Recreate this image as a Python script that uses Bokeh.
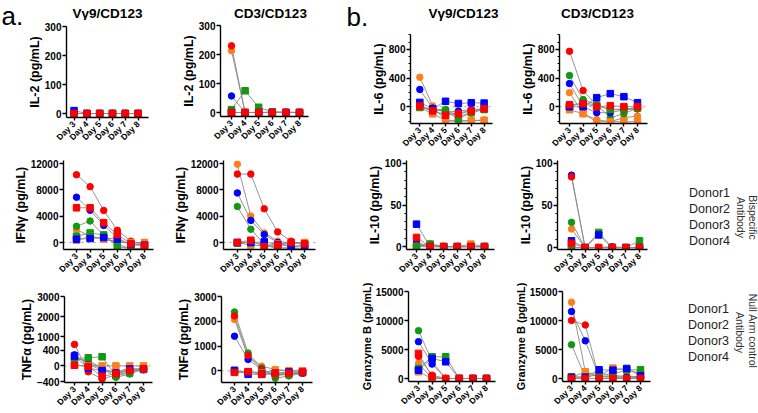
import math
from bokeh.plotting import figure
from bokeh.models import Range1d, FixedTicker, Label, Span, Legend, LegendItem
from bokeh.layouts import row, column
from bokeh.embed import file_html
from bokeh.resources import INLINE

# ---------------- data ----------------
DAYS = [3, 4, 5, 6, 7, 8]
DAY_LABELS = ["Day 3", "Day 4", "Day 5", "Day 6", "Day 7", "Day 8"]
DONORS = ["Donor1", "Donor2", "Donor3", "Donor4"]

# each list: Donor1..Donor4, values for Day 3..Day 8
IL2_VG9_BISPECIFIC = [[0, 0, 0, 0, 0, 0], [0, 0, 0, 0, 0, 0], [0, 0, 0, 0, 0, 0], [0, 0, 0, 0, 0, 0]]
IL2_VG9_NULLARM = [[0, 0, 0, 0, 0, 0], [10, 0, 0, 0, 0, 0], [0, 0, 0, 0, 0, 0], [0, 0, 0, 0, 0, 0]]
IL2_CD3_BISPECIFIC = [[230, 0, 0, 2, 2, 0], [57, 0, 0, 0, 0, 0], [0, 0, 0, 0, 0, 0], [213, 0, 0, 0, 0, 0]]
IL2_CD3_NULLARM = [[0, 0, 0, 0, 0, 0], [0, 0, 0, 0, 0, 0], [10, 75, 18, 2, 0, 0], [0, 0, 0, 0, 0, 0]]

IL6_VG9_BISPECIFIC = [[0, -60, -110, -90, -50, -30], [240, -20, -80, -60, -40, -30],
                      [0, -40, -40, -130, -90, -30], [410, 10, -200, -200, -200, -185]]
IL6_VG9_NULLARM = [[10, -60, -120, -100, -60, -30], [60, -30, 75, 45, 55, 50],
                   [-10, -40, -60, -170, -80, -40], [-10, -100, -190, -200, -190, -190]]
IL6_CD3_BISPECIFIC = [[772, 225, 20, -42, -42, -20], [323, 0, -84, -84, -42, -30],
                      [435, 100, 28, -154, -98, -20], [196, -98, -182, -210, -154, -130]]
IL6_CD3_NULLARM = [[28, 42, 0, 14, 0, 0], [0, 0, 126, 182, 140, 56],
                   [0, 60, 20, -40, -30, -20], [-42, -98, -210, -210, -210, -210]]

IFNG_VG9_BISPECIFIC = [[10290, 8480, 4870, 1860, 200, -400], [6880, 4900, 2600, 750, -400, -300],
                       [2460, 3260, 1100, -300, -900, -1000], [1960, 950, 500, 100, -100, 0]]
IFNG_VG9_NULLARM = [[5270, 5270, 3010, 1200, -200, -500], [500, 600, 750, 500, -300, -400],
                    [950, 1450, 1150, -650, -900, -900], [350, 900, 600, 0, 0, 0]]
IFNG_CD3_BISPECIFIC = [[10390, 10390, 5120, 1610, 200, -400], [7530, 3360, 1200, 0, -650, -500],
                       [5470, 2010, -250, -1050, -900, -1000], [11900, 4020, 1460, 200, -100, 0]]
IFNG_CD3_NULLARM = [[0, 350, -650, -400, 0, -200], [0, 0, 100, -300, -600, -400],
                    [-100, 0, -300, -800, -800, -900], [0, -400, -500, -200, -100, 0]]

IL10_VG9_BISPECIFIC = [[1, 0, 0, 0, 0, 0], [5, 0, 0, 0, 0, 0], [2, 3, 0, 0, 0, 0], [0, 1, 0, 0, 0, 0]]
IL10_VG9_NULLARM = [[11, 0, 0, 0, 0, 0], [27, 0, 0, 0, 0, 0], [0, 3, 0, 0, 0, 0], [0, 0, 0, 0, 3, 0]]
IL10_CD3_BISPECIFIC = [[84, 0, 0, 0, 0, 0], [86, 0, 0, 1, 0, 0], [30, 0, 0, 0, 0, 0], [22, 0, 0, 0, 0, 0]]
IL10_CD3_NULLARM = [[5, 0, 0, 0, 0, 0], [8, 0, 15, 0, 0, 0], [0, 0, 18, 0, 0, 8], [0, 0, 0, 0, 0, 0]]

TNFA_VG9_BISPECIFIC = [[550, -150, -333, -233, -150, -67], [283, 40, -108, -150, -67, -100],
                       [167, 150, -67, -292, -208, -80], [233, 80, -50, -200, -100, -60]]
TNFA_VG9_NULLARM = [[17, -17, -267, -200, -120, -80], [250, -58, -120, -180, -80, -90],
                    [190, 208, 233, -250, -180, -70], [20, 0, 0, 0, 0, 0]]
TNFA_CD3_BISPECIFIC = [[2217, 613, 50, -196, -143, -78], [1396, 456, 50, -143, -100, -100],
                       [2374, 717, 117, -300, -209, -100], [2074, 560, 183, 50, 0, 0]]
TNFA_CD3_NULLARM = [[-65, -40, -143, -100, -100, -50], [20, -143, -143, -100, -50, -60],
                    [-30, -60, -100, -150, -150, -80], [-40, -30, -80, 30, 0, 0]]

GZMB_VG9_BISPECIFIC = [[3810, 580, 0, 0, 0, 0], [6350, 2480, 0, 0, 0, 0],
                       [8250, 2940, 0, 0, 0, 0], [2600, 0, 0, 0, 0, 0]]
GZMB_VG9_NULLARM = [[4330, 290, 0, 0, 0, 0], [1440, 3460, 2880, 0, 0, 0],
                    [1730, 3750, 3750, 0, 0, 0], [1150, 0, 0, 0, 0, 0]]
GZMB_CD3_BISPECIFIC = [[10000, 9230, 0, 0, 0, 0], [11540, 6500, 300, 200, 200, 200],
                       [5830, 200, 700, 500, 400, 300], [13150, 1150, 400, 300, 300, 200]]
GZMB_CD3_NULLARM = [[0, 0, 0, 0, 0, 0], [200, 200, 1500, 1440, 1730, 460],
                    [290, 290, 750, 750, 1500, 1500], [200, 1150, 500, 1790, 1500, 870]]

# broken TNFa axis (Vg9 panel): upper segment tick labels
TNFA_UPPER_TICKS = [1000, 2000, 3000]

# ---------------- style ----------------
FONT = "Liberation Sans"
COLORS = ["#ff0000", "#0000ff", "#119911", "#ff7f1e"]
CONNECT = "#8a8a8a"


def calib(f0, f1, pa, va, pb, vb):
    k = (vb - va) / (pb - pa)
    return (va + (f0 - pa) * k, va + (f1 - pa) * k)


def kill_title(p):
    if p.title is not None:
        p.title.text = ""
        p.title.text_font_size = "0px"
        p.title.standoff = 0
        p.title.visible = False


def style_axis(ax, size="10px"):
    ax.axis_line_color = "black"
    ax.axis_line_width = 1.4
    ax.major_tick_line_color = "black"
    ax.major_tick_line_width = 1.4
    ax.major_tick_in = 0
    ax.major_tick_out = 4
    ax.minor_tick_line_color = "black"
    ax.minor_tick_line_width = 1
    ax.minor_tick_in = 0
    ax.minor_tick_out = 2
    ax.major_label_text_font = FONT
    ax.major_label_text_font_style = "bold"
    ax.major_label_text_font_size = size
    ax.major_label_text_color = "black"
    ax.major_label_standoff = 1


def blank_fig(canvas):
    cx, cy, cw, ch = canvas
    p = figure(width=cw, height=ch, x_range=Range1d(0, cw), y_range=Range1d(0, ch),
               x_axis_type=None, y_axis_type=None, min_border=0, frame_align=False,
               outline_line_color=None, output_backend="svg", toolbar_location=None)
    kill_title(p)
    return (p, (cx, cx + cw, cy, cy + ch))


def make_panel(canvas, frame, xcal, ycal, yticks, ylabel=None, minor=None, zero=False,
               series=None, label_size="12.5px", overrides=None):
    cx, cy, cw, ch = canvas
    fl, fr, ft, fb = frame
    x0, x1 = calib(fl, fr, *xcal)
    y0, y1 = calib(fb, ft, *ycal)
    p = figure(width=cw, height=ch, x_range=Range1d(x0, x1), y_range=Range1d(y0, y1),
               output_backend="svg", toolbar_location=None, frame_align=False,
               min_border_left=fl - cx, min_border_right=cx + cw - fr,
               min_border_top=ft - cy, min_border_bottom=cy + ch - fb,
               outline_line_color=None, background_fill_color="white",
               border_fill_color="white")
    kill_title(p)
    p.grid.visible = False
    if zero:
        p.add_layout(Span(location=0, dimension="width", line_color="#9a9a9a",
                          line_dash="dotted", line_width=1, level="underlay"))
    if series:
        bisp, null = series
        for grp in (bisp, null):
            for ys in grp:
                p.line(DAYS, ys, line_color=CONNECT, line_width=0.9)
        for grp, mk in ((bisp, "circle"), (null, "square")):
            for i in reversed(range(4)):
                p.scatter(DAYS, grp[i], marker=mk, size=6.5,
                          fill_color=COLORS[i], line_color=COLORS[i])
    yax = p.yaxis[0]
    yax.ticker = FixedTicker(ticks=yticks, minor_ticks=minor or [])
    if overrides:
        yax.major_label_overrides = overrides
    style_axis(yax)
    if ylabel:
        yax.axis_label = ylabel
        yax.axis_label_text_font = FONT
        yax.axis_label_text_font_style = "bold"
        yax.axis_label_text_font_size = label_size
        yax.axis_label_text_color = "black"
        yax.axis_label_standoff = 0
    xax = p.xaxis[0]
    xax.ticker = FixedTicker(ticks=DAYS)
    xax.major_label_overrides = {d: l for d, l in zip(DAYS, DAY_LABELS)}
    xax.major_label_orientation = math.pi / 4
    style_axis(xax, "8.5px")
    xax.major_label_standoff = 2
    xax.major_tick_out = 3
    return (p, frame)


def add_text(info, px, py, text, size, bold=False, align="center", baseline="middle",
             angle=0.0, color="black"):
    p, (fl, fr, ft, fb) = info
    x = p.x_range.start + (px - fl) / (fr - fl) * (p.x_range.end - p.x_range.start)
    y = p.y_range.start + (fb - py) / (fb - ft) * (p.y_range.end - p.y_range.start)
    p.add_layout(Label(x=x, y=y, text=text, text_font=FONT, text_font_size=size,
                       text_font_style="bold" if bold else "normal", text_align=align,
                       text_baseline=baseline, angle=angle, text_color=color))


def make_legend(canvas, marker, vx, vy, standoff, lines, line_xs, cy_text):
    info = blank_fig(canvas)
    lf = info[0]
    items = []
    for name, c in zip(DONORS, COLORS):
        lr = lf.line(x=[], y=[], line_color=c, line_width=1)
        sr = lf.scatter(x=[], y=[], marker=marker, size=7, fill_color=c, line_color=c)
        items.append(LegendItem(label=name, renderers=[lr, sr]))
    leg = Legend(items=items, location=(vx, vy), padding=0, margin=0, spacing=0,
                 glyph_width=18, glyph_height=16, label_height=16, label_standoff=standoff,
                 border_line_color=None, background_fill_alpha=0,
                 label_text_font=FONT, label_text_font_size="12.5px", label_text_color="#222222")
    lf.add_layout(leg)
    for txt, px in zip(lines, line_xs):
        add_text(info, px, cy_text, txt, "10.5px", angle=-math.pi / 2, color="#333333")
    return lf


# ---------------- row 1 ----------------
FA = blank_fig((0, 0, 24, 154))
FB = blank_fig((345, 0, 23, 154))
add_text(FA, 1, 15, "a.", "26px", align="left")
add_text(FB, 346, 16, "b.", "26px", align="left")
SA = blank_fig((24, 0, 146, 20))
SB = blank_fig((170, 0, 175, 20))
SC = blank_fig((368, 0, 147, 27))
SD = blank_fig((515, 0, 137, 27))
add_text(SA, 107, 12.8, "Vγ9/CD123", "13.5px", bold=True)
add_text(SB, 270, 12.8, "CD3/CD123", "13.5px", bold=True)
add_text(SC, 463, 12.8, "Vγ9/CD123", "13.5px", bold=True)
add_text(SD, 597, 12.8, "CD3/CD123", "13.5px", bold=True)

P1 = make_panel((24, 20, 146, 134), (61, 148, 26, 117), (69, 3, 137, 8), (113, 0, 26, 300),
                [0, 100, 200, 300], "IL-2 (pg/mL)",
                series=(IL2_VG9_BISPECIFIC, IL2_VG9_NULLARM))
P2 = make_panel((170, 20, 175, 134), (220, 308, 25, 116), (231, 3, 299, 8), (112, 0, 25, 300),
                [0, 100, 200, 300], "IL-2 (pg/mL)",
                series=(IL2_CD3_BISPECIFIC, IL2_CD3_NULLARM))
IL6_MINOR = list(range(-200, 1001, 100))
P3 = make_panel((368, 27, 147, 127), (404, 492, 34, 124), (414, 3, 483, 8), (107, 0, 49, 800),
                [0, 400, 800], "IL-6 (pg/mL)", minor=IL6_MINOR, zero=True,
                series=(IL6_VG9_BISPECIFIC, IL6_VG9_NULLARM))
P4 = make_panel((515, 27, 137, 127), (559, 647, 34, 124), (569, 3, 637, 8), (107, 0, 49, 800),
                [0, 400, 800], "IL-6 (pg/mL)", minor=IL6_MINOR, zero=True,
                series=(IL6_CD3_BISPECIFIC, IL6_CD3_NULLARM))

# ---------------- row 2 ----------------
P5 = make_panel((0, 154, 170, 126), (63, 153, 160, 249), (76, 3, 144, 8), (242, 0, 163, 12000),
                [0, 4000, 8000, 12000], "IFNγ (pg/mL)", zero=True,
                series=(IFNG_VG9_BISPECIFIC, IFNG_VG9_NULLARM))
P6 = make_panel((170, 154, 175, 126), (222, 315, 160, 249), (236, 3, 304, 8), (242, 0, 163, 12000),
                [0, 4000, 8000, 12000], "IFNγ (pg/mL)", zero=True,
                series=(IFNG_CD3_BISPECIFIC, IFNG_CD3_NULLARM))
IL10_MINOR = list(range(0, 101, 10))
P7 = make_panel((345, 154, 165, 126), (406, 494, 160, 252), (416, 3, 484, 8), (249, 0, 163, 100),
                [0, 50, 100], "IL-10 (pg/mL)", minor=IL10_MINOR,
                series=(IL10_VG9_BISPECIFIC, IL10_VG9_NULLARM))
P8 = make_panel((510, 154, 142, 126), (557, 647, 160, 253), (571, 3, 639, 8), (251, 0, 163, 100),
                [0, 50, 100], "IL-10 (pg/mL)", minor=IL10_MINOR,
                series=(IL10_CD3_BISPECIFIC, IL10_CD3_NULLARM))
L1 = make_legend((652, 154, 106, 126), "circle", 14, 31, 5,
                 ["Bispecific", "Antibody"], [752, 740], 217)

# ---------------- row 3 ----------------
# Vg9 TNFa: lower segment scale 0@367px, 400@351px; upper segment 1000@337px .. 3000@296px
_lo_k = 400.0 / (367 - 351)
_up_k = 2000.0 / (337 - 296)
_upper_pos = [int(round((367 - (337 - (v - 1000) / _up_k)) * _lo_k)) for v in TNFA_UPPER_TICKS]
P9 = make_panel((0, 280, 170, 133), (64, 152, 296, 384), (74, 3, 143, 8), (367, 0, 351, 400),
                [-400, 0, 400] + _upper_pos, "TNFα (pg/mL)", zero=True,
                overrides={pos: str(v) for pos, v in zip(_upper_pos, TNFA_UPPER_TICKS)},
                series=(TNFA_VG9_BISPECIFIC, TNFA_VG9_NULLARM))
P10 = make_panel((170, 280, 175, 133), (221, 312, 296, 384), (234, 3, 302, 8), (372, 0, 296, 3000),
                 [0, 1000, 2000, 3000], "TNFα (pg/mL)", zero=True,
                 series=(TNFA_CD3_BISPECIFIC, TNFA_CD3_NULLARM))
P11 = make_panel((345, 280, 165, 133), (408, 495, 291, 381), (418, 3, 486, 8), (378, 0, 291, 15000),
                 [0, 5000, 10000, 15000], "Granzyme B (pg/mL)", label_size="11px",
                 series=(GZMB_VG9_BISPECIFIC, GZMB_VG9_NULLARM))
P12 = make_panel((510, 280, 142, 133), (562, 650, 291, 381), (571, 3, 640, 8), (378, 0, 291, 15000),
                 [0, 5000, 10000, 15000], "Granzyme B (pg/mL)", label_size="11px",
                 series=(GZMB_CD3_BISPECIFIC, GZMB_CD3_NULLARM))
L2 = make_legend((652, 280, 106, 133), "square", 10, 48, 8,
                 ["Null Arm  control", "Antibody"], [752, 739], 332)

layout = column(
    row(FA[0], column(SA[0], P1[0]), column(SB[0], P2[0]), FB[0],
        column(SC[0], P3[0]), column(SD[0], P4[0])),
    row(P5[0], P6[0], P7[0], P8[0], L1),
    row(P9[0], P10[0], P11[0], P12[0], L2),
)

open("out.html", "w").write(file_html(layout, INLINE, title="cytokines"))
